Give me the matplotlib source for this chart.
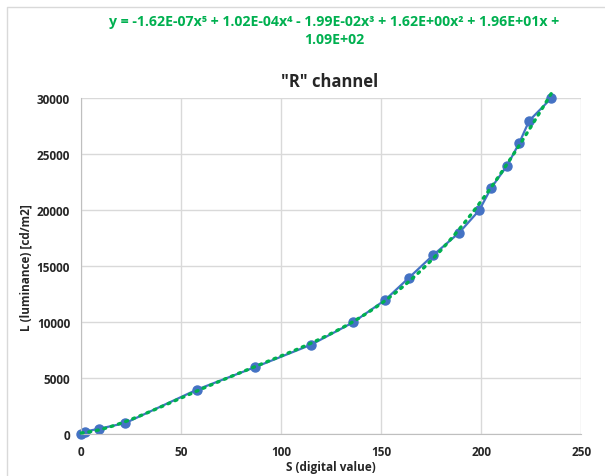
import numpy as np
import matplotlib
matplotlib.use('Agg')
import matplotlib.pyplot as plt
from matplotlib.lines import Line2D


# digital value vs luminance
S = [0, 2, 9, 22, 58, 87, 115, 136, 152, 164, 176, 189, 199, 205, 213, 219, 224, 235]
L = [0, 250, 500, 1000, 4000, 6000, 8000, 10000, 12000, 14000, 16000, 18000,
     20000, 22000, 24000, 26000, 28000, 30000]

X_TICKS = [0, 50, 100, 150, 200, 250]
Y_TICKS = [0, 5000, 10000, 15000, 20000, 25000, 30000]

TITLE = '"R" channel'
EQUATION = ('y = -1.62E-07x\u2075 + 1.02E-04x\u2074 - 1.99E-02x\u00b3 + '
            '1.62E+00x\u00b2 + 1.96E+01x +\n1.09E+02')

BLUE = '#4472C4'
GREEN = '#00B050'
GRID = '#D9D9D9'
TEXT = '#262626'

plt.rcParams['font.family'] = ['Open Sans', 'DejaVu Sans']


def main():
    fig = plt.figure(figsize=(6.05, 4.77), dpi=100)
    ax = fig.add_axes([81.2 / 605, 1 - 435.3 / 477, 500 / 605, 336 / 477])

    # 5th order trendline as excel does it
    coef = np.polyfit(S, L, 5)
    xs = np.linspace(min(S), max(S), 300)
    ax.plot(xs, np.polyval(coef, xs), color=GREEN, lw=2.4,
            linestyle=(0, (0.6, 1.7)), dash_capstyle='round', zorder=3,
            clip_on=False)

    ax.plot(S, L, color=BLUE, lw=1.6, marker='o', ms=6.5, zorder=2,
            clip_on=False)

    ax.set_xlim(0, 250)
    ax.set_ylim(0, 30000)
    ax.set_xticks(X_TICKS)
    ax.set_yticks(Y_TICKS)
    ax.tick_params(length=0, labelsize=8.5, colors=TEXT, pad=8)
    for lab in ax.get_xticklabels() + ax.get_yticklabels():
        lab.set_fontweight('bold')
    ax.grid(True, color=GRID, lw=1)
    ax.set_axisbelow(True)
    for side in ['top', 'right']:
        ax.spines[side].set_visible(False)
    for side in ['left', 'bottom']:
        ax.spines[side].set_color('#BFBFBF')

    ax.set_xlabel('S (digital value)', fontsize=8.5, fontweight='bold',
                  color=TEXT, labelpad=1)
    ax.set_ylabel('L (luminance) [cd/m2]', fontsize=8.5, fontweight='bold',
                  color=TEXT, labelpad=3)

    fig.text(330 / 605, 1 - 82 / 477, TITLE, ha='center', va='center',
             fontsize=12, fontweight='bold', color=TEXT)
    fig.text(334 / 605, 1 - 31 / 477, EQUATION, ha='center', va='center',
             fontsize=10.2, fontweight='bold', color=GREEN, linespacing=1.3)

    # chart area border (only left and top show in the crop)
    fig.add_artist(Line2D([7 / 605, 7 / 605, 1], [0, 1 - 8 / 477, 1 - 8 / 477],
                          transform=fig.transFigure, color='#D9D9D9', lw=1))

    fig.savefig('out.png', dpi=100)


if __name__ == '__main__':
    main()
